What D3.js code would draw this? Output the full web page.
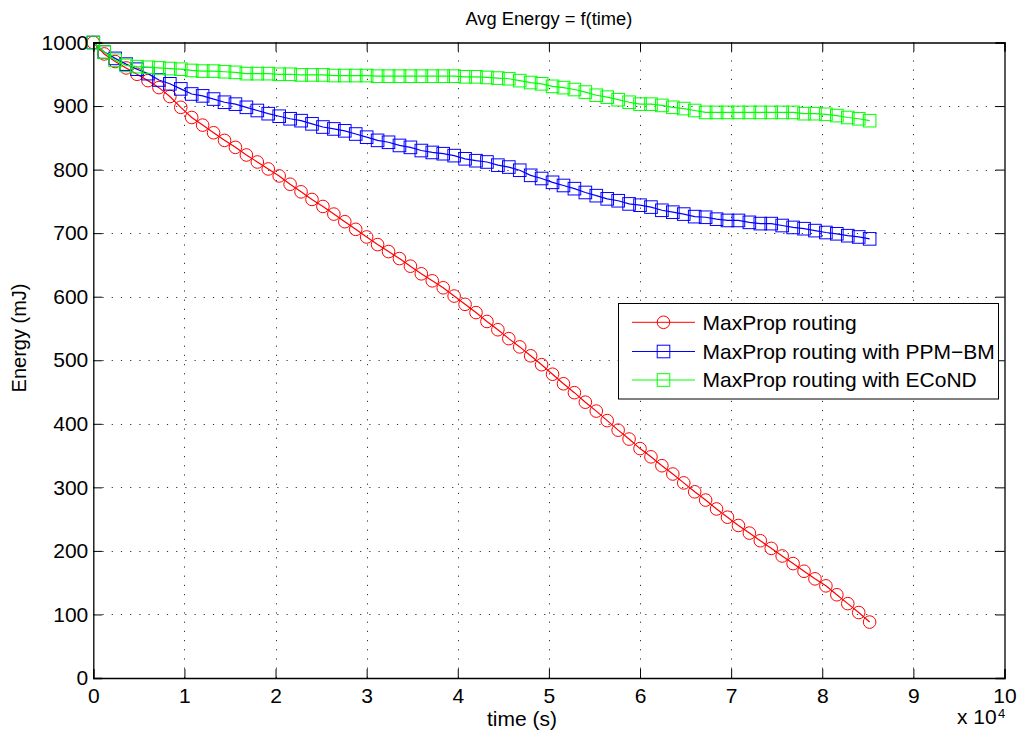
<!DOCTYPE html>
<html>
<head>
<meta charset="utf-8">
<script src="https://cdn.jsdelivr.net/npm/d3@7"></script>
<style>
  html, body { margin: 0; padding: 0; background: #fff; }
  svg { display: block; font-family: "Liberation Sans", Arial, Helvetica, sans-serif; }
</style>
</head>
<body>
<svg id="chart" width="1020" height="745"></svg>
<script>
// ---- data (time in seconds, energy in mJ) ----
const times = [0,1200,2400,3600,4800,6000,7200,8400,9600,10800,
  12000,13200,14400,15600,16800,18000,19200,20400,21600,22800,
  24000,25200,26400,27600,28800,30000,31200,32400,33600,34800,
  36000,37200,38400,39600,40800,42000,43200,44400,45600,46800,
  48000,49200,50400,51600,52800,54000,55200,56400,57600,58800,
  60000,61200,62400,63600,64800,66000,67200,68400,69600,70800,
  72000,73200,74400,75600,76800,78000,79200,80400,81600,82800,
  84000,85200];

const maxPropRouting = [1000,982,970,960,950,940,929,915,898,882,
  870,858,846,835,823,812,801,790,777,765,
  753,742,730,718,706,694,682,671,660,648,
  636,625,614,601,588,575,561,548,534,521,
  507,493,478,463,449,434,420,405,390,376,
  361,348,334,321,307,293,280,266,253,240,
  228,216,204,192,180,168,156,145,131,117,
  103,88];

const maxPropPPMBM = [1000,985,975,966,958,951,941,935,927,919,
  916,911,906,903,898,893,888,884,880,877,
  872,867,864,861,856,851,846,843,838,835,
  830,827,825,822,817,814,812,807,804,799,
  791,786,780,775,770,764,759,754,751,746,
  744,741,736,733,730,726,725,722,720,720,
  717,715,715,712,709,707,704,701,699,696,
  694,691];

const maxPropECoND = [1000,985,972,964,962,961,960,959,958,956,
  955,955,954,953,951,951,951,950,950,949,
  949,949,948,948,948,948,947,947,947,947,
  947,947,947,947,946,946,945,944,943,940,
  937,935,931,929,926,922,917,914,910,906,
  903,903,901,898,896,893,890,890,890,890,
  890,890,890,890,890,888,888,887,885,882,
  880,877];

const seriesNames = ["MaxProp routing", "MaxProp routing with PPM\u2212BM", "MaxProp routing with ECoND"];
const seriesColors = ["#ff0000", "#0000ff", "#00ff00"];
const seriesMarkers = ["circle", "square", "square"];
const seriesValues = [maxPropRouting, maxPropPPMBM, maxPropECoND];

const xTicks = [0,10000,20000,30000,40000,50000,60000,70000,80000,90000,100000];
const yTicks = [0,100,200,300,400,500,600,700,800,900,1000];

const titleText = "Avg Energy = f(time)";
const xLabel = "time (s)";
const yLabel = "Energy (mJ)";

// ---- layout ----
const L = 93.3, R = 1004.5, T = 42.5, B = 678;
const fontSize = 21;

const svg = d3.select("#chart");
const x = d3.scaleLinear().domain([0, 100000]).range([L, R]);
const y = d3.scaleLinear().domain([0, 1000]).range([B, T]);

// grid
const grid = svg.append("g").attr("stroke", "#333").attr("stroke-width", 1)
  .attr("stroke-dasharray", "1.2,8").attr("fill", "none");
xTicks.slice(1, -1).forEach(t => {
  grid.append("line").attr("x1", Math.round(x(t)) + 0.5).attr("x2", Math.round(x(t)) + 0.5)
    .attr("y1", B).attr("y2", T);
});
yTicks.slice(1, -1).forEach(t => {
  grid.append("line").attr("y1", Math.round(y(t)) + 0.5).attr("y2", Math.round(y(t)) + 0.5)
    .attr("x1", L).attr("x2", R);
});

// data
const plot = svg.append("g");
const line = d3.line().x((d, i) => x(times[i])).y(d => y(d));
seriesValues.forEach((vals, k) => {
  const g = plot.append("g");
  g.append("path").attr("d", line(vals)).attr("fill", "none")
    .attr("stroke", seriesColors[k]).attr("stroke-width", 1.2);
  if (seriesMarkers[k] === "circle") {
    g.selectAll("circle").data(vals).join("circle")
      .attr("cx", (d, i) => x(times[i])).attr("cy", d => y(d)).attr("r", 6.3)
      .attr("fill", "none").attr("stroke", seriesColors[k]).attr("stroke-width", 1);
  } else {
    g.selectAll("rect").data(vals).join("rect")
      .attr("x", (d, i) => x(times[i]) - 6.3).attr("y", d => y(d) - 6.3)
      .attr("width", 12.6).attr("height", 12.6)
      .attr("fill", "none").attr("stroke", seriesColors[k]).attr("stroke-width", 1);
  }
});

// axes
const tickLen = 9;
const axB = svg.append("g").attr("transform", `translate(0,${B})`)
  .call(d3.axisBottom(x).tickValues(xTicks).tickSize(-tickLen).tickPadding(10).tickFormat(d => d / 10000));
const axT = svg.append("g").attr("transform", `translate(0,${T})`)
  .call(d3.axisTop(x).tickValues(xTicks).tickSize(-tickLen).tickFormat(""));
const axLf = svg.append("g").attr("transform", `translate(${L},0)`)
  .call(d3.axisLeft(y).tickValues(yTicks).tickSize(-tickLen).tickPadding(5).tickFormat(d3.format("d")));
const axRt = svg.append("g").attr("transform", `translate(${R},0)`)
  .call(d3.axisRight(y).tickValues(yTicks).tickSize(-tickLen).tickFormat(""));
[axB, axT, axLf, axRt].forEach(a => {
  a.select(".domain").attr("stroke", "#000").attr("stroke-width", 1.3);
  a.selectAll(".tick line").attr("stroke", "#000").attr("stroke-width", 1);
  a.selectAll(".tick text").attr("fill", "#000").attr("font-size", fontSize)
    .attr("font-family", "Liberation Sans, Arial, sans-serif");
});

// exponent label
svg.append("text").attr("x", 957).attr("y", 724).attr("font-size", fontSize).attr("fill", "#000").text("x 10");
svg.append("text").attr("x", 998).attr("y", 718).attr("font-size", 13).attr("fill", "#000").text("4");

// titles
svg.append("text").attr("x", (L + R) / 2).attr("y", 25).attr("text-anchor", "middle")
  .attr("font-size", 18.3).attr("fill", "#000").text(titleText);
svg.append("text").attr("x", 522).attr("y", 726).attr("text-anchor", "middle")
  .attr("font-size", fontSize).attr("fill", "#000").text(xLabel);
svg.append("text").attr("transform", `translate(26,338) rotate(-90)`).attr("text-anchor", "middle")
  .attr("font-size", 20).attr("fill", "#000").text(yLabel);

// legend
const lg = svg.append("g");
lg.append("rect").attr("x", 618.5).attr("y", 303.5).attr("width", 380).attr("height", 95.5)
  .attr("fill", "#fff").attr("stroke", "#000").attr("stroke-width", 1);
const rowY = [322.3, 351.5, 380];
seriesNames.forEach((name, k) => {
  const yy = rowY[k];
  lg.append("line").attr("x1", 632).attr("x2", 695).attr("y1", yy).attr("y2", yy)
    .attr("stroke", seriesColors[k]).attr("stroke-width", 1);
  if (seriesMarkers[k] === "circle") {
    lg.append("circle").attr("cx", 663.5).attr("cy", yy).attr("r", 6.3)
      .attr("fill", "none").attr("stroke", seriesColors[k]);
  } else {
    lg.append("rect").attr("x", 663.5 - 6.3).attr("y", yy - 6.3).attr("width", 12.6).attr("height", 12.6)
      .attr("fill", "none").attr("stroke", seriesColors[k]);
  }
  lg.append("text").attr("x", 702.5).attr("y", yy).attr("dy", "0.35em")
    .attr("font-size", fontSize).attr("fill", "#000").text(name);
});
</script>
</body>
</html>
